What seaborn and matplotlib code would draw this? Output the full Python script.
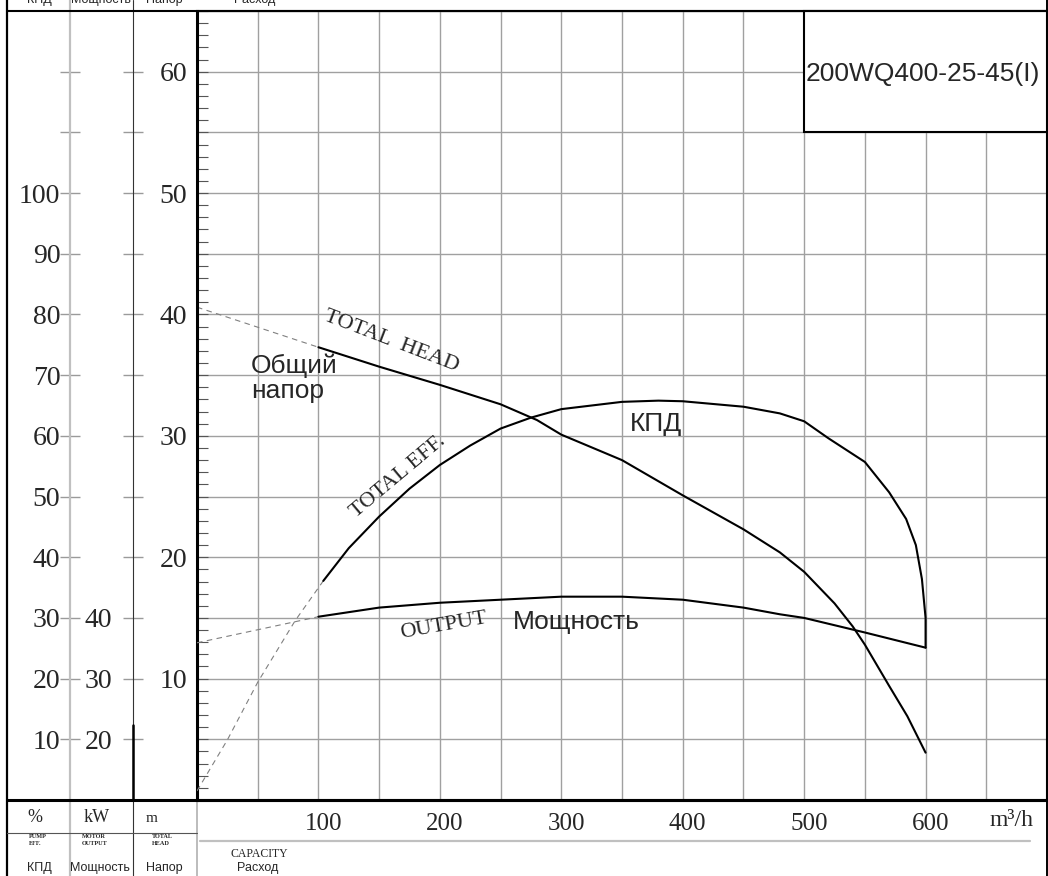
import numpy as np
import matplotlib
matplotlib.use("Agg")
import matplotlib.pyplot as plt
import seaborn as sns
from matplotlib.patches import Rectangle
from matplotlib.transforms import ScaledTranslation

# --- values (capacity in m3/h) ---
head_q = [100, 150, 200, 250, 280, 300, 350, 400, 450, 480, 500, 525, 540, 550,
          570, 585, 600]
head_m = [37.3, 35.7, 34.2, 32.6, 31.3, 30.1, 28.0, 25.1, 22.3, 20.4, 18.8, 16.2,
          14.3, 12.8, 9.4, 6.9, 3.9]
head_ext_q = [0, 100]
head_ext_m = [40.6, 37.3]

eff_q = [104, 125, 150, 175, 200, 225, 250, 275, 300, 350, 380, 400, 450, 480, 500,
         520, 550, 570, 584, 592, 597, 600, 600]
eff_pct = [36.1, 41.5, 46.7, 51.3, 55.2, 58.4, 61.2, 63.0, 64.4, 65.6, 65.8, 65.7,
           64.8, 63.7, 62.4, 59.6, 55.7, 50.7, 46.3, 42.0, 36.4, 30.0, 25.1]
eff_ext_q = [0, 25, 50, 81, 104]
eff_ext_pct = [1.5, 9.9, 19.4, 29.6, 36.1]

power_q = [100, 150, 200, 250, 300, 350, 400, 450, 480, 500, 550, 600]
power_kw = [40.2, 41.7, 42.5, 43.0, 43.5, 43.5, 43.0, 41.7, 40.6, 40.0, 37.6, 35.1]
power_ext_q = [0, 100]
power_ext_kw = [35.9, 40.2]

cap_labels = [100, 200, 300, 400, 500, 600]
head_labels = [10, 20, 30, 40, 50, 60]
eff_labels = [10, 20, 30, 40, 50, 60, 70, 80, 90, 100]
power_labels = [20, 30, 40]
model_name = "200WQ400-25-45(I)"

sns.set_style("white")
plt.rcParams["font.family"] = ["Liberation Serif", "DejaVu Serif"]
SANS = ["Liberation Sans", "DejaVu Sans"]

W, H = 1048, 876
fig = plt.figure(figsize=(W / 100, H / 100), dpi=100)


def box(x0, y0, x1, y1):
    # pixel box (top-left origin) -> figure fraction rect
    return [x0 / W, 1 - y1 / H, (x1 - x0) / W, (y1 - y0) / H]


TOP, BOT = 11, 800

# main chart: head scale
ax = fig.add_axes(box(197, TOP, 1047, BOT))
ax.set_xlim(0, 700)
ax.set_ylim(0, 65)
xt = np.arange(0, 701, 50)
ax.set_xticks(xt)
ax.set_xticklabels([str(v) if v in cap_labels else "" for v in xt])
ax.set_xticks(np.arange(0, 701, 10), minor=True)
yt = np.arange(0, 66, 5)
ax.set_yticks(yt)
ax.set_yticklabels([str(v) if v in head_labels else "" for v in yt])
ax.set_yticks(np.arange(0, 66, 1), minor=True)
ax.grid(True, which="major", color="#a0a0a0", lw=1.0)
ax.set_axisbelow(True)
ax.tick_params(axis="x", which="both", direction="in", length=8, width=0.8,
               color="#555555", labelsize=18, pad=9)
ax.tick_params(axis="y", which="both", direction="in", length=8, width=0.8,
               color="#555555", labelsize=20, pad=7)
for lab in ax.get_xticklabels():
    lab.set_transform(lab.get_transform() + ScaledTranslation(0.05, 0, fig.dpi_scale_trans))
for side, lw in [("left", 2.2), ("bottom", 2.2), ("top", 1.5), ("right", 1.5)]:
    ax.spines[side].set_visible(True)
    ax.spines[side].set_color("black")
    ax.spines[side].set_linewidth(lw)

dash = dict(color="#808080", lw=0.8, linestyle=(0, (5, 4)), legend=False,
            estimator=None, sort=False)
solid = dict(color="black", lw=1.5, legend=False, estimator=None, sort=False)

sns.lineplot(x=head_ext_q, y=head_ext_m, ax=ax, **dash)
sns.lineplot(x=head_q, y=head_m, ax=ax, **solid)

ax_eff = ax.twinx()
ax_eff.set_ylim(0, 130)
sns.lineplot(x=eff_ext_q, y=eff_ext_pct, ax=ax_eff, **dash)
sns.lineplot(x=eff_q, y=eff_pct, ax=ax_eff, **solid)
ax_eff.axis("off")

ax_pow = ax.twinx()
ax_pow.set_ylim(10, 140)
sns.lineplot(x=power_ext_q, y=power_ext_kw, ax=ax_pow, **dash)
sns.lineplot(x=power_q, y=power_kw, ax=ax_pow, **solid)
ax_pow.axis("off")

ax.set_xlabel("")
ax.set_ylabel("")

# model box
ax.add_patch(Rectangle((500, 55), 200, 10, facecolor="white", edgecolor="black",
                       lw=1.5, zorder=3, clip_on=False))
ax.text(501.5, 59.8, model_name, ha="left", va="center", fontsize=19,
        family=SANS, zorder=4)

# curve labels
ax.text(160, 37.8, "TOTAL  HEAD", rotation=-21, ha="center", va="center", fontsize=16)
ax.text(44.5, 36.8, "Общий\nнапор", ha="left", va="top", fontsize=19,
        family=SANS, linespacing=1.05)
ax.text(166, 26.6, "TOTAL EFF.", rotation=40, ha="center", va="center", fontsize=16)
ax.text(378, 31.0, "КПД", ha="center", va="center", fontsize=19, family=SANS)
ax.text(203, 14.3, "OUTPUT", rotation=10, ha="center", va="center", fontsize=16)
ax.text(260, 14.7, "Мощность", ha="left", va="center", fontsize=19, family=SANS)

# side scales: efficiency (%) and motor output (kW)
col_eff = fig.add_axes(box(70, TOP, 133, BOT))
col_eff.set_ylim(0, 130)
et = np.arange(10, 121, 10)
col_eff.set_yticks(et)
col_eff.set_yticklabels([str(v) if v in eff_labels else "" for v in et])
col_eff.tick_params(axis="y", direction="inout", length=14, width=1, color="#9a9a9a",
                    labelsize=20, pad=0, left=True)
col_eff.set_xticks([])

col_kw = fig.add_axes(box(133, TOP, 197, BOT))
col_kw.set_ylim(10, 140)
kt = np.arange(20, 131, 10)
col_kw.set_yticks(kt)
col_kw.set_yticklabels([str(v) if v in power_labels else "" for v in kt])
col_kw.tick_params(axis="y", direction="inout", length=14, width=1, color="#9a9a9a",
                   labelsize=20, pad=8, left=True)
col_kw.set_xticks([])

for c in (col_eff, col_kw):
    c.patch.set_alpha(0)
    for s in c.spines.values():
        s.set_visible(False)

# frame, table lines and header texts in pixel space
ov = fig.add_axes([0, 0, 1, 1], zorder=5)
ov.set_xlim(0, W)
ov.set_ylim(H, 0)
ov.axis("off")
ov.patch.set_alpha(0)
ov.plot([7, 7], [0, H], color="black", lw=1.6)
ov.plot([1047, 1047], [0, H], color="black", lw=1.4)
ov.plot([70, 70], [0, H], color="#c0c0c0", lw=1.6)
ov.plot([133, 133], [0, H], color="#333333", lw=0.8)
ov.plot([133, 133], [725, BOT], color="black", lw=1.8)
ov.plot([197, 197], [BOT, H], color="#b0b0b0", lw=1.2)
ov.plot([7, 1047], [TOP, TOP], color="black", lw=1.5)
ov.plot([7, 1047], [BOT, BOT], color="black", lw=2.2)
ov.plot([7, 197], [833, 833], color="#555555", lw=0.8)
ov.plot([200, 1030], [841, 841], color="#c0c0c0", lw=1.6)

for x, s in [(39, "КПД"), (101, "Мощность"), (164, "Напор"), (255, "Расход")]:
    ov.text(x, 0, s, ha="center", va="center", fontsize=9, family=SANS)
for x, s in [(39, "КПД"), (100, "Мощность"), (164, "Напор"), (258, "Расход")]:
    ov.text(x, 868, s, ha="center", va="center", fontsize=9, family=SANS)
ov.text(35, 818, "%", ha="center", va="center", fontsize=13)
ov.text(97, 818, "kW", ha="center", va="center", fontsize=13)
ov.text(152, 818, "m", ha="center", va="center", fontsize=11)
for x, s in [(29, "PUMP\nEFF."), (82, "MOTOR\nOUTPUT"), (152, "TOTAL\nHEAD")]:
    ov.text(x, 834, s, ha="left", va="top", fontsize=4.5, fontweight="bold",
            linespacing=1.4)
ov.text(259, 854, "CAPACITY", ha="center", va="center", fontsize=8.5)
ov.text(1012, 820, "m³/h", ha="center", va="center", fontsize=17)

fig.savefig("out.png", dpi=100)
